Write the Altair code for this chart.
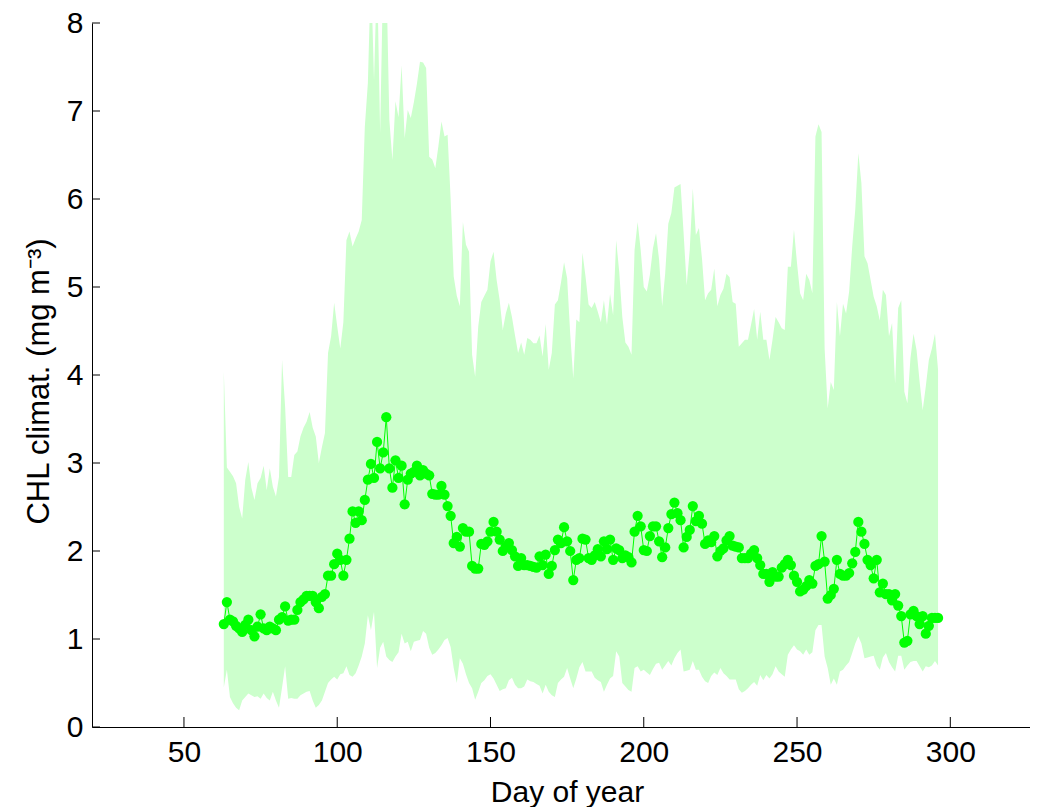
import altair as alt
import pandas as pd

START_DAY = 63

chl_mean = [
    1.17, 1.42, 1.22, 1.20, 1.15, 1.12, 1.08, 1.16, 1.22, 1.10,
    1.03, 1.14, 1.28, 1.12, 1.10, 1.14, 1.12, 1.10, 1.22, 1.25,
    1.37, 1.21, 1.22, 1.22, 1.33, 1.42, 1.45, 1.49, 1.49, 1.49,
    1.42, 1.35, 1.48, 1.51, 1.72, 1.72, 1.85, 1.97, 1.90, 1.72,
    1.90, 2.14, 2.45, 2.32, 2.45, 2.35, 2.58, 2.81, 2.99, 2.83,
    3.24, 2.94, 3.12, 3.52, 2.94, 2.72, 3.03, 2.83, 2.97, 2.53,
    2.81, 2.88, 2.90, 2.97, 2.86, 2.92, 2.88, 2.86, 2.65, 2.64,
    2.64, 2.74, 2.64, 2.51, 2.40, 2.09, 2.16, 2.05, 2.26, 2.22,
    2.22, 1.83, 1.80, 1.80, 2.08, 2.07, 2.11, 2.22, 2.33, 2.22,
    2.13, 2.00, 2.05, 2.09, 2.01, 1.94, 1.83, 1.92, 1.84, 1.84,
    1.83, 1.82, 1.81, 1.94, 1.84, 1.96, 1.74, 1.83, 2.01, 2.13,
    2.09, 2.27, 2.11, 2.00, 1.67, 1.90, 1.92, 2.14, 2.13, 1.92,
    1.90, 1.95, 2.02, 1.94, 2.11, 2.02, 2.13, 1.90, 2.03, 2.01,
    1.92, 1.95, 1.93, 1.87, 2.22, 2.40, 2.28, 2.01, 2.00, 2.17,
    2.28, 2.28, 2.11, 1.93, 2.04, 2.26, 2.42, 2.55, 2.43, 2.35,
    2.04, 2.16, 2.24, 2.51, 2.34, 2.40, 2.31, 2.08, 2.12, 2.10,
    2.17, 1.94, 2.00, 2.03, 2.12, 2.17, 2.06, 2.05, 2.04, 1.92,
    1.92, 1.92, 1.97, 2.01, 1.92, 1.84, 1.74, 1.74, 1.65, 1.76,
    1.71, 1.71, 1.81, 1.85, 1.90, 1.84, 1.72, 1.65, 1.54, 1.56,
    1.60, 1.67, 1.63, 1.83, 1.85, 2.17, 1.88, 1.46, 1.50, 1.57,
    1.90, 1.74, 1.72, 1.72, 1.75, 1.86, 1.99, 2.33, 2.22, 2.08,
    1.90, 1.84, 1.69, 1.90, 1.53, 1.63, 1.51, 1.51, 1.44, 1.51,
    1.38, 1.26, 0.96, 0.98, 1.28, 1.32, 1.26, 1.17, 1.26, 1.06,
    1.15, 1.24, 1.24, 1.24,
]

chl_upper = [
    4.04, 2.95, 2.90, 2.85, 2.77, 2.50, 2.37, 2.81, 3.01, 2.72,
    2.58, 2.77, 2.83, 2.97, 2.69, 2.94, 2.73, 2.62, 2.84, 4.17,
    3.64, 2.84, 2.84, 3.09, 3.13, 3.30, 3.40, 3.47, 3.58, 3.40,
    3.30, 3.00, 3.18, 3.34, 4.25, 4.44, 4.82, 4.55, 4.30, 4.60,
    5.53, 5.63, 5.46, 5.55, 5.63, 5.76, 6.82, 7.32, 8.60, 7.35,
    8.60, 6.75, 8.60, 8.60, 6.90, 6.44, 7.11, 6.93, 7.52, 6.69,
    7.01, 6.92, 7.10, 7.31, 7.56, 7.55, 7.49, 6.48, 6.45, 6.35,
    6.60, 6.88, 6.71, 6.73, 6.00, 5.12, 4.90, 4.78, 5.74, 5.48,
    5.40, 4.23, 3.98, 4.55, 4.83, 4.90, 4.97, 5.29, 5.40, 5.08,
    4.85, 4.51, 4.70, 4.82, 4.66, 4.45, 4.25, 4.37, 4.23, 4.42,
    4.40, 4.36, 4.36, 4.45, 4.21, 4.58, 4.06, 4.25, 4.80, 4.85,
    5.05, 5.28, 5.10, 4.47, 3.96, 4.63, 4.60, 5.39, 5.12, 4.80,
    4.76, 4.83, 4.72, 4.60, 4.85, 4.57, 4.92, 4.68, 5.53, 5.17,
    4.66, 4.37, 4.32, 4.23, 5.42, 5.74, 5.42, 5.00, 4.95, 5.14,
    5.44, 5.61, 5.31, 4.78, 5.16, 5.72, 5.84, 6.13, 6.15, 6.17,
    5.61, 5.02, 5.42, 6.12, 5.59, 5.67, 5.32, 4.85, 4.93, 4.97,
    5.21, 4.78, 4.91, 4.98, 5.15, 5.11, 4.83, 4.81, 4.32, 4.36,
    4.40, 4.40, 4.57, 4.75, 4.40, 4.72, 4.40, 4.40, 4.17, 4.40,
    4.66, 4.60, 4.53, 4.51, 5.23, 5.23, 5.65, 5.27, 4.93, 4.85,
    5.15, 5.08, 4.93, 6.71, 6.85, 6.76, 4.30, 3.62, 3.92, 3.83,
    4.83, 4.44, 4.81, 4.70, 4.95, 5.46, 5.88, 6.52, 6.18, 5.35,
    5.27, 5.08, 4.89, 4.78, 4.62, 4.97, 4.91, 4.44, 4.59, 3.90,
    4.76, 4.85, 3.81, 3.68, 4.19, 4.47, 4.28, 3.92, 3.60, 3.87,
    4.17, 4.30, 4.47, 4.06,
]

chl_lower = [
    0.45, 0.65, 0.34, 0.27, 0.22, 0.19, 0.30, 0.34, 0.38, 0.36,
    0.34, 0.35, 0.32, 0.38, 0.33, 0.30, 0.40, 0.30, 0.22, 0.45,
    0.69, 0.32, 0.33, 0.32, 0.32, 0.36, 0.38, 0.40, 0.41, 0.30,
    0.22, 0.25, 0.30, 0.40, 0.50, 0.54, 0.57, 0.54, 0.60, 0.61,
    0.69, 0.59, 0.57, 0.61, 0.70, 0.80, 0.95, 1.27, 1.10, 1.31,
    0.67, 0.90, 0.97, 0.80, 0.76, 0.74, 0.80, 0.85, 1.06, 0.95,
    0.97, 0.86, 0.97, 0.98, 0.99, 1.09, 1.06, 0.90, 0.82, 0.84,
    0.88, 0.93, 0.99, 1.01, 0.91, 0.67, 0.50, 0.78, 0.72, 0.60,
    0.50, 0.44, 0.31, 0.40, 0.50, 0.53, 0.58, 0.60, 0.55, 0.48,
    0.41, 0.43, 0.44, 0.53, 0.56, 0.48, 0.44, 0.44, 0.46, 0.54,
    0.52, 0.51, 0.49, 0.47, 0.38, 0.48, 0.40, 0.36, 0.34, 0.50,
    0.54, 0.57, 0.67, 0.55, 0.44, 0.55, 0.68, 0.74, 0.63, 0.63,
    0.63, 0.56, 0.53, 0.51, 0.40, 0.48, 0.55, 0.58, 0.86, 0.80,
    0.50, 0.46, 0.42, 0.40, 0.67, 0.69, 0.63, 0.65, 0.62, 0.59,
    0.66, 0.72, 0.73, 0.65, 0.70, 0.75, 0.70, 0.78, 0.84, 0.88,
    0.63, 0.64, 0.65, 0.75, 0.65, 0.65, 0.57, 0.52, 0.50, 0.58,
    0.62, 0.59, 0.67, 0.61, 0.58, 0.54, 0.54, 0.54, 0.43, 0.39,
    0.41, 0.44, 0.48, 0.51, 0.47, 0.59, 0.53, 0.59, 0.55, 0.60,
    0.69, 0.63, 0.60, 0.57, 0.82, 0.88, 0.93, 0.88, 0.86, 0.82,
    0.88, 0.82, 0.85, 1.10, 1.16, 1.16, 0.80, 0.67, 0.48, 0.55,
    0.48, 0.63, 0.65, 0.70, 0.74, 0.84, 0.95, 1.03, 0.95, 0.78,
    0.79, 0.80, 0.81, 0.70, 0.65, 0.79, 0.84, 0.74, 0.68, 0.63,
    0.81, 0.81, 0.65, 0.70, 0.74, 0.75, 0.75, 0.69, 0.63, 0.69,
    0.68, 0.70, 0.75, 0.70,
]

x_ticks = [50, 100, 150, 200, 250, 300]
y_ticks = [0, 1, 2, 3, 4, 5, 6, 7, 8]

n = min(len(chl_mean), len(chl_upper), len(chl_lower))
df = pd.DataFrame({
    "day": list(range(START_DAY, START_DAY + n)),
    "mean": chl_mean[:n],
    "hi": chl_upper[:n],
    "lo": chl_lower[:n],
})
xt_df = pd.DataFrame({"day": x_ticks})
yt_df = pd.DataFrame({"lo": y_ticks})

W, H = 938, 704
FONT = "Liberation Sans"
xscale = alt.Scale(domain=[20, 326], nice=False, zero=False)
yscale = alt.Scale(domain=[0, 8], nice=False, zero=False)

xaxis = alt.Axis(values=x_ticks, ticks=False, grid=False, labelFontSize=30,
                 labelFont=FONT, labelColor="black", labelPadding=10,
                 domainColor="black", domainWidth=1, title="Day of year",
                 titleFont=FONT, titleFontSize=30, titleFontWeight="normal",
                 titleColor="black", titleX=475, titleY=65,
                 titleBaseline="middle", titleAlign="center")
yaxis = alt.Axis(values=y_ticks, ticks=False, grid=False, labelFontSize=30,
                 labelFont=FONT, labelColor="black", labelPadding=9,
                 domainColor="black", domainWidth=1,
                 title="CHL climat. (mg m\u207b\u00b3)",
                 titleFont=FONT, titleFontSize=31, titleFontWeight="normal",
                 titleColor="black", titleAngle=270, titleX=-53, titleY=358,
                 titleBaseline="middle", titleAlign="center")

X = alt.X("day:Q", scale=xscale, axis=xaxis)

base = alt.Chart(df)
band = base.mark_area(color="#ccffcc", opacity=1, clip=True).encode(
    x=X,
    y=alt.Y("lo:Q", scale=yscale, axis=yaxis),
    y2="hi:Q",
)
line = base.mark_line(color="#00ff00", strokeWidth=1, clip=True).encode(
    x=X,
    y=alt.Y("mean:Q", scale=yscale, axis=yaxis),
)
pts = base.mark_circle(color="#00ff00", size=105, opacity=1, clip=True).encode(
    x=X,
    y=alt.Y("mean:Q", scale=yscale, axis=yaxis),
)
xt = alt.Chart(xt_df).mark_rule(color="black", strokeWidth=1).encode(
    x=X,
    y=alt.value(H),
    y2=alt.value(H - 10),
)
yt = alt.Chart(yt_df).mark_rule(color="black", strokeWidth=1).encode(
    y=alt.Y("lo:Q", scale=yscale, axis=yaxis),
    x=alt.value(0),
    x2=alt.value(8),
)

chart = alt.layer(band, line, pts, xt, yt).properties(
    width=W, height=H,
    autosize=alt.AutoSizeParams(type="none"),
    padding={"left": 84, "top": 15, "right": 0, "bottom": 80},
    background="white",
).configure_view(stroke=None)

chart.save("out.html", embed_options={"renderer": "svg", "actions": False})
